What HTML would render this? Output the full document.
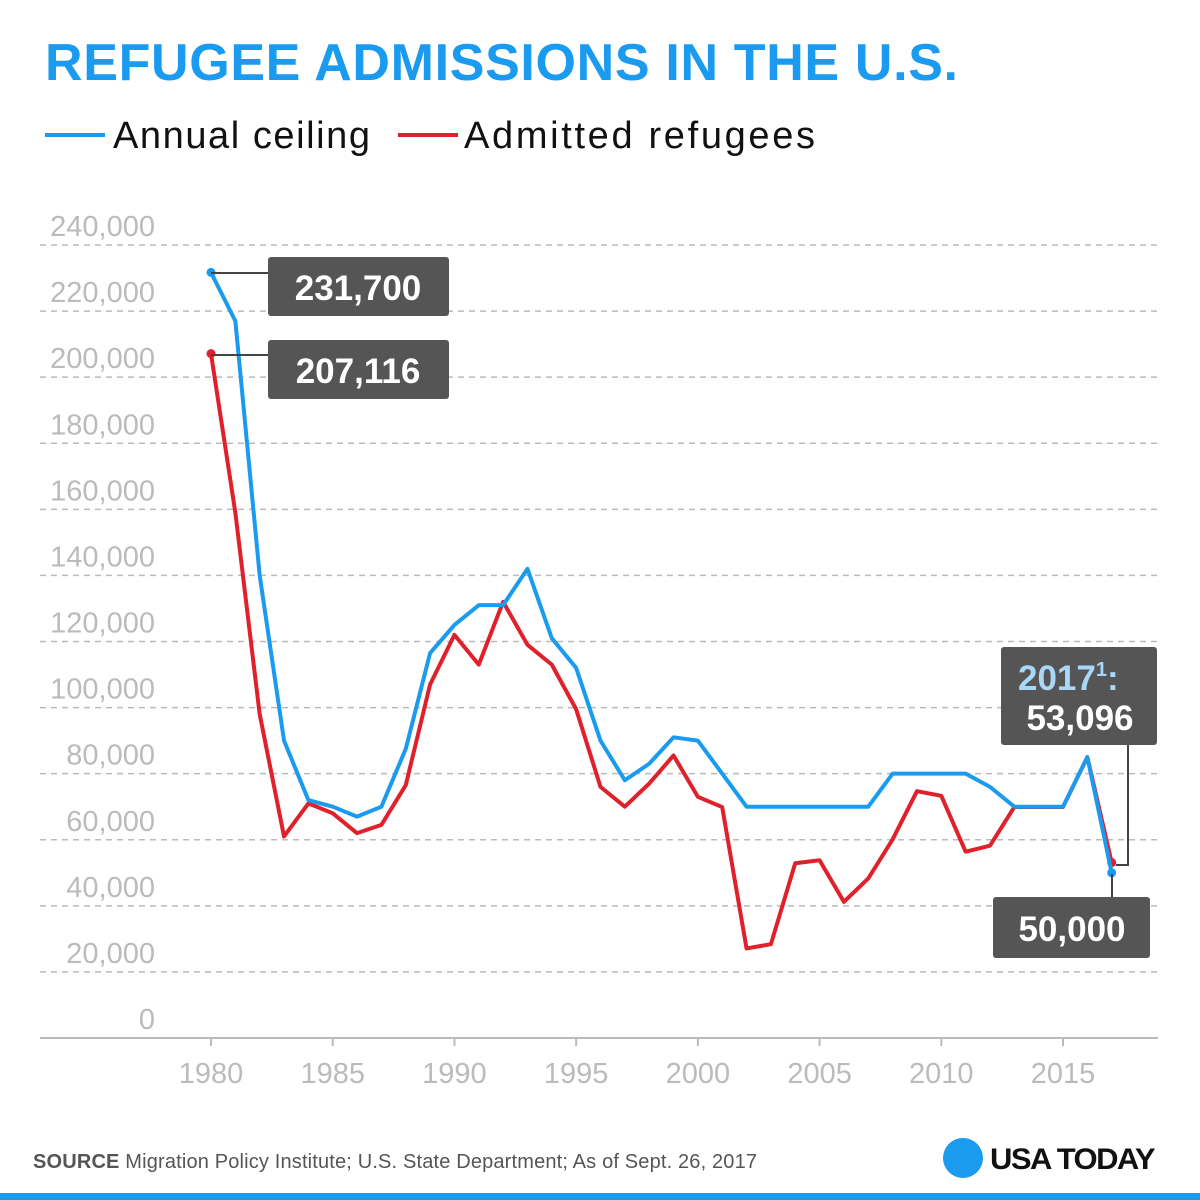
<!DOCTYPE html>
<html><head><meta charset="utf-8"><style>
body{margin:0;background:#fff;}
svg{display:block;font-family:"Liberation Sans",sans-serif;}
</style></head><body>
<svg id="chart" width="1200" height="1200" viewBox="0 0 1200 1200">
<text x="45" y="80" font-size="52" font-weight="bold" fill="#1a9bf0" textLength="913" lengthAdjust="spacing">REFUGEE ADMISSIONS IN THE U.S.</text>
<g>
<line x1="45" y1="135" x2="105" y2="135" stroke="#1a9bf0" stroke-width="4"/>
<text x="113" y="148" font-size="38" fill="#111" textLength="257" lengthAdjust="spacing">Annual ceiling</text>
<line x1="398" y1="135" x2="458" y2="135" stroke="#e0202a" stroke-width="4"/>
<text x="464" y="148" font-size="38" fill="#111" textLength="351" lengthAdjust="spacing">Admitted refugees</text>
</g>
<g id="grid"></g><g id="xaxis"></g><g id="lines"></g>
<g>
<polyline points="211,273 268,273" fill="none" stroke="#444" stroke-width="2"/>
<rect x="268" y="257" width="181" height="59" rx="3" fill="#555"/>
<text x="358" y="300" font-size="35" font-weight="bold" fill="#fff" text-anchor="middle">231,700</text>
<polyline points="211,355 268,355" fill="none" stroke="#444" stroke-width="2"/>
<rect x="268" y="340" width="181" height="59" rx="3" fill="#555"/>
<text x="358" y="383" font-size="35" font-weight="bold" fill="#fff" text-anchor="middle">207,116</text>
<polyline points="1116,865 1128,865 1128,745" fill="none" stroke="#444" stroke-width="2"/>
<rect x="1001" y="647" width="156" height="98" rx="3" fill="#555"/>
<text x="1018" y="690" font-size="35" font-weight="bold" fill="#a8d8f8">2017<tspan font-size="20" dy="-14">1</tspan><tspan dy="14">:</tspan></text>
<text x="1080" y="730" font-size="35" font-weight="bold" fill="#fff" text-anchor="middle">53,096</text>
<line x1="1112" y1="874" x2="1112" y2="897" stroke="#444" stroke-width="2"/>
<rect x="993" y="897" width="157" height="61" rx="3" fill="#555"/>
<text x="1072" y="941" font-size="35" font-weight="bold" fill="#fff" text-anchor="middle">50,000</text>
</g>
<text x="33" y="1168" font-size="20" fill="#555" textLength="724" lengthAdjust="spacing"><tspan font-weight="bold">SOURCE</tspan> Migration Policy Institute; U.S. State Department; As of Sept. 26, 2017</text>
<circle cx="963" cy="1158" r="20" fill="#1a9bf0"/>
<text x="990" y="1169" font-size="30" font-weight="bold" fill="#111" letter-spacing="-1.5" textLength="164" lengthAdjust="spacingAndGlyphs">USA TODAY</text>
<rect x="0" y="1193" width="1200" height="7" fill="#1a9bf0"/>
</svg>
<script>
const years=[];for(let y=1980;y<=2017;y++)years.push(y);
const ceiling=[231700,217000,140000,90000,72000,70000,67000,70000,87500,116500,125000,131000,131000,142000,121000,112000,90000,78000,83000,91000,90000,80000,70000,70000,70000,70000,70000,70000,80000,80000,80000,80000,76000,70000,70000,70000,85000,50000];
const admitted=[207116,159000,98000,61000,71000,68000,62000,64500,76500,107000,122000,113000,132000,119000,113000,99500,76000,70000,77000,85500,73000,69900,27100,28400,52900,53800,41200,48300,60100,74700,73300,56400,58200,69900,69900,69900,85000,53096];
const yTicks=[0,20000,40000,60000,80000,100000,120000,140000,160000,180000,200000,220000,240000];
const xTicks=[1980,1985,1990,1995,2000,2005,2010,2015];
const ns="http://www.w3.org/2000/svg";
const X=y=>211+(y-1980)*24.343;
const Y=v=>1038-v*(793/240000);
function mk(tag,attrs,parent){const e=document.createElementNS(ns,tag);for(const k in attrs)e.setAttribute(k,attrs[k]);document.getElementById(parent).appendChild(e);return e;}
yTicks.forEach(v=>{
 if(v>0){const l=mk('line',{x1:40,x2:1158,y1:Y(v),y2:Y(v),stroke:'#bbb','stroke-width':1.5,'stroke-dasharray':'6,5'},'grid');
 
 }
 const t=mk('text',{x:155,y:Y(v)-9,'font-size':29,fill:'#bbb','text-anchor':'end'},'grid');
 t.textContent=v.toLocaleString('en-US');
 
 
});
const ax=mk('line',{x1:40,x2:1158,y1:1038,y2:1038,stroke:'#bbb','stroke-width':2},'xaxis');


xTicks.forEach(yr=>{
 const tk=mk('line',{x1:X(yr),x2:X(yr),y1:1038,y2:1046,stroke:'#bbb','stroke-width':2},'xaxis');
 
 
 const t=mk('text',{x:X(yr),y:1083,'font-size':29,fill:'#bbb','text-anchor':'middle'},'xaxis');
 t.textContent=yr;
 
 
});
function series(vals,color,name){
 const p=mk('polyline',{points:vals.map((v,i)=>X(years[i])+','+Y(v)).join(' '),fill:'none',stroke:color,'stroke-width':4,'stroke-linejoin':'round'},'lines');
 
 
 [0,vals.length-1].forEach(i=>{const c=mk('circle',{cx:X(years[i]),cy:Y(vals[i]),r:4.5,fill:color},'lines');
 
 });
}
series(admitted,'#e0202a','admitted-line');
series(ceiling,'#1a9bf0','ceiling-line');
</script>
</body></html>
